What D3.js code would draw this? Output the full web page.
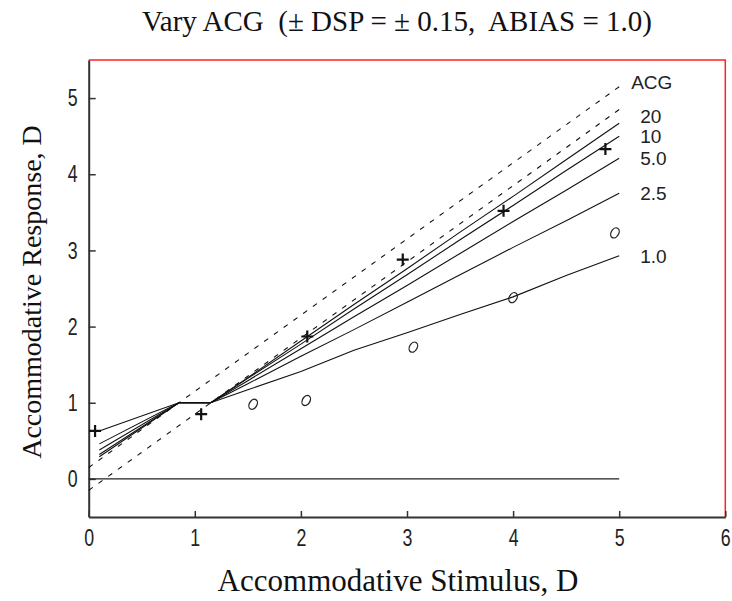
<!DOCTYPE html>
<html>
<head>
<meta charset="utf-8">
<script src="https://cdn.jsdelivr.net/npm/d3@7"></script>
<style>
  body { margin: 0; background: #fff; }
  svg { display: block; }
</style>
</head>
<body>
<div id="chart"></div>
<script>
// stimulus positions where the model curves were read
const stimulus = [0.1, 0.85, 1.15, 1.5, 2, 2.5, 3, 3.5, 4, 4.5, 5];

// response per ACG value
const acgNames = ['20', '10', '5.0', '2.5', '1.0'];
const acg20 = [0.29, 1.0, 1.0, 1.33, 1.81, 2.29, 2.76, 3.24, 3.71, 4.19, 4.67];
const acg10 = [0.32, 1.0, 1.0, 1.32, 1.77, 2.23, 2.68, 3.14, 3.59, 4.05, 4.50];
const acg5 = [0.38, 1.0, 1.0, 1.29, 1.71, 2.13, 2.54, 2.96, 3.38, 3.79, 4.21];
const acg25 = [0.46, 1.0, 1.0, 1.25, 1.61, 1.96, 2.32, 2.68, 3.04, 3.39, 3.75];
const acg1 = [0.63, 1.0, 1.0, 1.17, 1.41, 1.69, 1.92, 2.16, 2.39, 2.67, 2.93];
const acgSeries = [acg20, acg10, acg5, acg25, acg1];

// dashed limits (+/- DSP around the 1:1 line)
const limitX = [0, 5];
const upperLimit = [0.15, 5.15];
const lowerLimit = [-0.15, 4.85];

// zero response line
const zeroX = [0, 5];
const zeroY = [0, 0];

// measured points
const plusX = [0.06, 1.06, 2.06, 2.96, 3.91, 4.87];
const plusY = [0.63, 0.85, 1.87, 2.88, 3.52, 4.33];
const circX = [1.55, 2.05, 3.06, 4.0, 4.96];
const circY = [0.98, 1.03, 1.73, 2.38, 3.23];

const xTicks = [0, 1, 2, 3, 4, 5, 6];
const yTicks = [0, 1, 2, 3, 4, 5];

const width = 732, height = 601;
const margin = { left: 88.7, right: 6.7, top: 60, bottom: 84 };

const svg = d3.select('#chart').append('svg')
    .attr('width', width)
    .attr('height', height);

const x = d3.scaleLinear().domain([0, 6]).range([margin.left, width - margin.right]);
const y = d3.scaleLinear().domain([-0.5, 5.5]).range([height - margin.bottom, margin.top]);

const sansFont = '"Liberation Sans", Arial, sans-serif';
const serifFont = '"Liberation Serif", "Times New Roman", serif';

// red frame top/right
svg.append('path')
    .attr('d', `M${x(0)} ${y(5.5)} H${x(6)} V${y(-0.5)}`)
    .attr('fill', 'none')
    .attr('stroke', '#ff2020')
    .attr('stroke-width', 1.5);

// axes
const xAxis = svg.append('g')
    .attr('transform', `translate(0, ${y(-0.5)})`)
    .call(d3.axisBottom(x).tickValues(xTicks).tickFormat(d3.format('d'))
        .tickSizeInner(-6).tickSizeOuter(0));
const yAxis = svg.append('g')
    .attr('transform', `translate(${x(0)}, 0)`)
    .call(d3.axisLeft(y).tickValues(yTicks).tickFormat(d3.format('d'))
        .tickSizeInner(-7).tickSizeOuter(0));

[xAxis, yAxis].forEach(a => {
    a.select('.domain').attr('stroke', '#333').attr('stroke-width', 2);
    a.selectAll('.tick line').attr('stroke', '#333').attr('stroke-width', 1.5);
    a.selectAll('.tick text')
        .attr('fill', '#222')
        .style('font-family', sansFont)
        .style('font-size', '24px');
});
// narrow tick digits, like the original
xAxis.selectAll('.tick text')
    .attr('y', 0).attr('dy', '0.71em')
    .attr('transform', 'translate(0, 12) scale(0.74, 1)');
yAxis.selectAll('.tick text')
    .attr('x', 0)
    .attr('transform', 'translate(-11, 0) scale(0.74, 1)');

const line = d3.line().x(d => x(d[0])).y(d => y(d[1]));

// zero line
svg.append('path')
    .attr('d', line(d3.zip(zeroX, zeroY)))
    .attr('fill', 'none')
    .attr('stroke', '#222')
    .attr('stroke-width', 1.2);

// dashed limits
[upperLimit, lowerLimit].forEach(l => {
    svg.append('path')
        .attr('d', line(d3.zip(limitX, l)))
        .attr('fill', 'none')
        .attr('stroke', '#111')
        .attr('stroke-width', 1.1)
        .attr('stroke-dasharray', '5,7');
});

// model curves
svg.selectAll('.curve')
    .data(acgSeries)
    .join('path')
    .attr('class', 'curve')
    .attr('d', d => line(d3.zip(stimulus, d)))
    .attr('fill', 'none')
    .attr('stroke', '#111')
    .attr('stroke-width', 1.1);

// curve labels, stacked so they never overlap
let labelPos = acgSeries.map(d => y(d[d.length - 1]));
for (let i = labelPos.length - 2; i >= 0; i--) {
    labelPos[i] = Math.min(labelPos[i], labelPos[i + 1] - 20);
}
const headerPos = Math.min(y(upperLimit[1]) - 4, labelPos[0] - 20);

svg.append('text')
    .attr('x', x(5) + 12)
    .attr('y', headerPos)
    .attr('dy', '0.36em')
    .style('font-family', sansFont)
    .style('font-size', '19px')
    .attr('fill', '#222')
    .text('ACG');

svg.selectAll('.acg-label')
    .data(acgNames)
    .join('text')
    .attr('class', 'acg-label')
    .attr('x', x(5) + 21)
    .attr('y', (d, i) => labelPos[i])
    .attr('dy', '0.36em')
    .style('font-family', sansFont)
    .style('font-size', '19px')
    .attr('fill', '#222')
    .text(d => d);

// plus markers
svg.selectAll('.plus')
    .data(d3.zip(plusX, plusY))
    .join('path')
    .attr('class', 'plus')
    .attr('d', d => `M${x(d[0]) - 6} ${y(d[1])} h12 M${x(d[0])} ${y(d[1]) - 6} v12`)
    .attr('stroke', '#111')
    .attr('stroke-width', 2.2);

// italic "o" markers
svg.selectAll('.circ')
    .data(d3.zip(circX, circY))
    .join('ellipse')
    .attr('class', 'circ')
    .attr('cx', d => x(d[0]))
    .attr('cy', d => y(d[1]))
    .attr('rx', 3.8)
    .attr('ry', 5.4)
    .attr('transform', d => `rotate(30, ${x(d[0])}, ${y(d[1])})`)
    .attr('fill', 'none')
    .attr('stroke', '#222')
    .attr('stroke-width', 1.3);

// title and axis labels
svg.append('text')
    .attr('x', 397)
    .attr('y', 31)
    .attr('text-anchor', 'middle')
    .style('font-family', serifFont)
    .style('font-size', '29px')
    .style('white-space', 'pre')
    .attr('fill', '#111')
    .text('Vary ACG  (± DSP = ± 0.15,  ABIAS = 1.0)');

svg.append('text')
    .attr('x', 398)
    .attr('y', 591)
    .attr('text-anchor', 'middle')
    .style('font-family', serifFont)
    .style('font-size', '31px')
    .attr('fill', '#111')
    .text('Accommodative Stimulus, D');

svg.append('text')
    .attr('transform', `translate(41, 292) rotate(-90)`)
    .attr('text-anchor', 'middle')
    .style('font-family', serifFont)
    .style('font-size', '28px')
    .attr('fill', '#111')
    .text('Accommodative Response, D');
</script>
</body>
</html>
